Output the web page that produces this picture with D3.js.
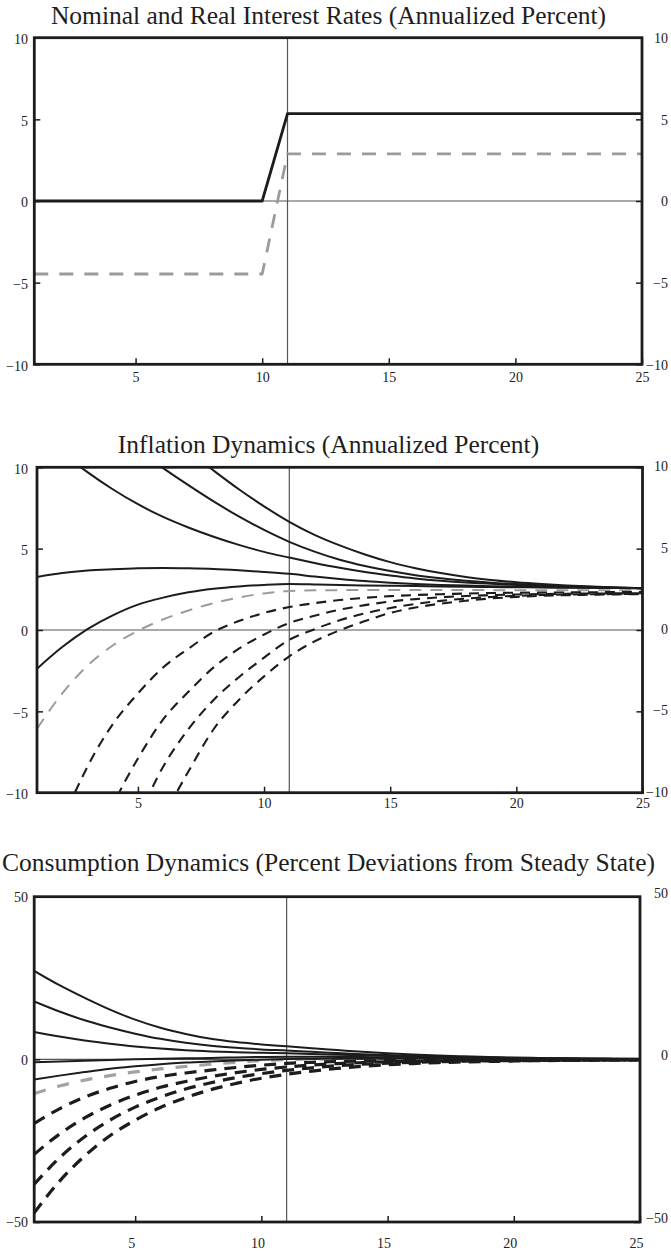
<!DOCTYPE html>
<html>
<head>
<meta charset="utf-8">
<script src="https://cdn.jsdelivr.net/npm/d3@7"></script>
<style>
  body { margin: 0; background: #fff; }
  svg { display: block; }
</style>
</head>
<body>
<svg id="chart" width="671" height="1254"></svg>
<script>
// ---------------- DATA ----------------
const periods = [1,2,3,4,5,6,7,8,9,10,11,12,13,14,15,16,17,18,19,20,21,22,23,24,25];
const xTicks = [5, 10, 15, 20, 25];
const rateTicks = [-10, -5, 0, 5, 10];
const consTicks = [-50, 0, 50];
const eventPeriod = 11;

const titles = [
  "Nominal and Real Interest Rates (Annualized Percent)",
  "Inflation Dynamics (Annualized Percent)",
  "Consumption Dynamics (Percent Deviations from Steady State)"
];

// Panel 1: interest rates
const nominalRate = [0,0,0,0,0,0,0,0,0,0,5.35,5.35,5.35,5.35,5.35,5.35,5.35,5.35,5.35,5.35,5.35,5.35,5.35,5.35,5.35];
const realRate = [-4.47,-4.47,-4.47,-4.47,-4.47,-4.47,-4.47,-4.47,-4.47,-4.47,2.88,2.88,2.88,2.88,2.88,2.88,2.88,2.88,2.88,2.88,2.88,2.88,2.88,2.88,2.88];

// Panel 2: inflation paths
const inflHighC = [18.8,17.4,16.0,14.7,13.4,12.2,11.0,9.8,8.65,7.6,6.65,5.85,5.2,4.64,4.17,3.8,3.5,3.26,3.08,2.94,2.83,2.74,2.67,2.61,2.57];
const inflHighB = [15.9,14.6,13.4,12.2,11.05,9.95,8.9,7.9,6.98,6.15,5.42,4.82,4.32,3.93,3.62,3.37,3.18,3.03,2.91,2.83,2.75,2.69,2.64,2.6,2.57];
const inflHighA = [12.2,10.9,9.7,8.65,7.73,6.95,6.3,5.73,5.23,4.8,4.45,4.12,3.82,3.56,3.35,3.17,3.03,2.92,2.84,2.77,2.71,2.66,2.62,2.59,2.57];
const inflHump  = [3.26,3.5,3.65,3.73,3.79,3.81,3.79,3.75,3.67,3.57,3.45,3.29,3.14,3.01,2.91,2.83,2.77,2.73,2.69,2.66,2.64,2.62,2.6,2.58,2.57];
const inflRise  = [-2.38,-1.05,0.05,0.9,1.56,1.99,2.32,2.54,2.68,2.77,2.82,2.8,2.77,2.74,2.72,2.7,2.68,2.66,2.64,2.63,2.61,2.6,2.59,2.58,2.57];
const inflGray  = [-6.07,-3.9,-2.2,-0.95,-0.05,0.65,1.2,1.65,2.0,2.25,2.4,2.44,2.45,2.46,2.46,2.46,2.46,2.46,2.45,2.45,2.45,2.44,2.44,2.44,2.44];
const inflLow1  = [-16.9,-11.9,-8.4,-5.8,-3.9,-2.3,-1.15,-0.12,0.55,1.05,1.41,1.65,1.84,1.98,2.08,2.15,2.2,2.24,2.27,2.29,2.3,2.31,2.32,2.33,2.34];
const inflLow2  = [-24.0,-18.8,-14.5,-10.8,-7.9,-5.5,-3.8,-2.3,-1.15,-0.28,0.43,0.88,1.25,1.53,1.75,1.9,2.01,2.09,2.14,2.18,2.21,2.23,2.24,2.25,2.26];
const inflLow3  = [-27.0,-22.0,-17.8,-14.3,-11.5,-8.4,-6.1,-4.3,-2.9,-1.7,-0.6,0.05,0.6,1.02,1.35,1.6,1.79,1.93,2.03,2.1,2.15,2.18,2.2,2.21,2.22];
const inflLow4  = [-30.0,-25.0,-21.0,-17.5,-14.5,-11.5,-8.7,-6.1,-4.3,-2.85,-1.62,-0.7,-0.02,0.55,1.05,1.38,1.62,1.8,1.94,2.03,2.1,2.14,2.17,2.19,2.21];

// Panel 3: consumption paths
const consHigh1 = [27.2,22.8,18.9,15.3,12.2,9.7,7.8,6.3,5.3,4.6,4.0,3.4,2.85,2.3,1.85,1.48,1.17,0.92,0.72,0.56,0.43,0.34,0.27,0.21,0.16];
const consHigh2 = [17.8,14.7,12.0,9.8,7.9,6.3,5.1,4.2,3.55,3.05,2.7,2.3,1.95,1.6,1.3,1.05,0.85,0.68,0.54,0.43,0.34,0.27,0.21,0.17,0.13];
const consHigh3 = [8.4,7.0,5.8,4.8,3.95,3.3,2.8,2.45,2.2,2.0,1.85,1.65,1.45,1.25,1.05,0.88,0.72,0.58,0.46,0.37,0.29,0.23,0.18,0.14,0.11];
const consMid   = [-0.9,-0.65,-0.4,-0.2,0.0,0.15,0.3,0.45,0.6,0.72,0.8,0.8,0.76,0.7,0.62,0.53,0.45,0.37,0.3,0.24,0.19,0.15,0.12,0.09,0.07];
const consRise  = [-6.2,-5.0,-3.9,-2.9,-2.15,-1.5,-1.0,-0.65,-0.35,-0.1,0.1,0.2,0.25,0.27,0.27,0.25,0.22,0.19,0.16,0.13,0.1,0.08,0.06,0.05,0.04];
const consGray  = [-10.5,-8.2,-6.4,-5.0,-3.85,-2.95,-2.2,-1.5,-0.9,-0.4,-0.05,0.05,0.05,0.05,0.05,0.04,0.04,0.03,0.02,0.02,0.01,0.01,0.0,0.0,0.0];
const consLow1  = [-19.7,-15.2,-11.6,-8.9,-6.8,-5.3,-4.2,-3.3,-2.5,-1.8,-1.25,-0.9,-0.65,-0.5,-0.4,-0.35,-0.3,-0.25,-0.2,-0.2,-0.15,-0.15,-0.1,-0.1,-0.1];
const consLow2  = [-29.2,-23.0,-18.0,-14.1,-11.0,-8.6,-6.8,-5.3,-4.1,-3.1,-2.35,-1.75,-1.3,-1.0,-0.75,-0.6,-0.5,-0.4,-0.35,-0.3,-0.25,-0.2,-0.2,-0.15,-0.15];
const consLow3  = [-38.4,-30.3,-23.8,-18.7,-14.7,-11.6,-9.1,-7.2,-5.6,-4.4,-3.4,-2.6,-1.95,-1.5,-1.15,-0.9,-0.7,-0.55,-0.45,-0.4,-0.35,-0.3,-0.25,-0.2,-0.2];
const consLow4  = [-47.2,-37.5,-29.7,-23.5,-18.7,-14.8,-11.8,-9.3,-7.4,-5.8,-4.6,-3.6,-2.8,-2.15,-1.65,-1.3,-1.0,-0.8,-0.65,-0.5,-0.4,-0.35,-0.3,-0.25,-0.2];

// ---------------- STYLES / LAYOUT ----------------
const FONT = "'Liberation Serif', 'Times New Roman', serif";
const BLACK = "#1c1c1c";
const GRAY = "#9b9b9b";

const solid1 = { color: BLACK, width: 2.8, dash: null };
const gray1  = { color: GRAY,  width: 2.8, dash: "14,11" };
const solid2 = { color: BLACK, width: 2.0, dash: null };
const dash2  = { color: BLACK, width: 2.1, dash: "10,7" };
const gray2  = { color: GRAY,  width: 2.0, dash: "12,9" };
const solid3 = { color: BLACK, width: 2.0, dash: null };
const dash3  = { color: BLACK, width: 3.2, dash: "12,8" };
const gray3  = { color: "#a3a3a3", width: 3.2, dash: "12,12" };

const panels = [
  {
    key: "p1", title: titles[0], titleY: 24,
    left: 34.3, right: 642, top: 37.7, bottom: 364.3,
    yDomain: [-10, 10], yTicks: rateTicks,
    leftLabelDy: 1.5, rightLabelDy: 0.5, xLabelY: 18, xLabelDx: 0,
    curve: d3.curveLinear,
    series: [
      Object.assign({ values: realRate }, gray1),
      Object.assign({ values: nominalRate }, solid1)
    ]
  },
  {
    key: "p2", title: titles[1], titleY: 452.7,
    left: 37, right: 642.5, top: 467.3, bottom: 792.7,
    yDomain: [-10, 10], yTicks: rateTicks,
    leftLabelDy: 1.5, rightLabelDy: -1, xLabelY: 15.5, xLabelDx: 0,
    curve: d3.curveMonotoneX,
    series: [
      Object.assign({ values: inflGray }, gray2),
      Object.assign({ values: inflLow1 }, dash2),
      Object.assign({ values: inflLow2 }, dash2),
      Object.assign({ values: inflLow3 }, dash2),
      Object.assign({ values: inflLow4 }, dash2),
      Object.assign({ values: inflHighC }, solid2),
      Object.assign({ values: inflHighB }, solid2),
      Object.assign({ values: inflHighA }, solid2),
      Object.assign({ values: inflHump }, solid2),
      Object.assign({ values: inflRise }, solid2)
    ]
  },
  {
    key: "p3", title: titles[2], titleY: 870.7,
    left: 34.2, right: 640, top: 896.7, bottom: 1222,
    yDomain: [-50, 50], yTicks: consTicks,
    leftLabelDy: 0.5, rightLabelDy: -4, xLabelY: 26, xLabelDx: -4,
    curve: d3.curveMonotoneX,
    series: [
      Object.assign({ values: consGray }, gray3),
      Object.assign({ values: consLow1 }, dash3),
      Object.assign({ values: consLow2 }, dash3),
      Object.assign({ values: consLow3 }, dash3),
      Object.assign({ values: consLow4 }, dash3),
      Object.assign({ values: consHigh1 }, solid3),
      Object.assign({ values: consHigh2 }, solid3),
      Object.assign({ values: consHigh3 }, solid3),
      Object.assign({ values: consMid }, solid3),
      Object.assign({ values: consRise }, solid3)
    ]
  }
];

// ---------------- DRAW ----------------
const svg = d3.select("#chart");
svg.append("rect").attr("width", 671).attr("height", 1254).attr("fill", "#fff");
const defs = svg.append("defs");

function styleAxisText(sel) {
  sel.selectAll("text")
    .attr("font-family", FONT)
    .attr("font-size", 14)
    .attr("fill", "#222");
}

panels.forEach(p => {
  const g = svg.append("g");
  const x = d3.scaleLinear().domain([1, 25]).range([p.left, p.right]);
  const y = d3.scaleLinear().domain(p.yDomain).range([p.bottom, p.top]);

  defs.append("clipPath").attr("id", "clip-" + p.key)
    .append("rect")
    .attr("x", p.left).attr("y", p.top)
    .attr("width", p.right - p.left).attr("height", p.bottom - p.top);

  // title
  g.append("text")
    .attr("x", 328.5).attr("y", p.titleY)
    .attr("text-anchor", "middle")
    .attr("font-family", FONT)
    .attr("font-size", 25.5)
    .attr("fill", "#1e1e1e")
    .text(p.title);

  // reference lines
  g.append("line")
    .attr("x1", p.left).attr("x2", p.right)
    .attr("y1", y(0)).attr("y2", y(0))
    .attr("stroke", "#555").attr("stroke-width", 1.2);
  g.append("line")
    .attr("x1", x(eventPeriod)).attr("x2", x(eventPeriod))
    .attr("y1", p.top).attr("y2", p.bottom)
    .attr("stroke", "#555").attr("stroke-width", 1.2);

  // series
  const line = d3.line()
    .x((d, i) => x(periods[i]))
    .y(d => y(d))
    .curve(p.curve);
  const plot = g.append("g").attr("clip-path", "url(#clip-" + p.key + ")");
  p.series.forEach(s => {
    plot.append("path")
      .attr("d", line(s.values))
      .attr("fill", "none")
      .attr("stroke", s.color)
      .attr("stroke-width", s.width)
      .attr("stroke-dasharray", s.dash)
      .attr("stroke-linejoin", "round");
  });

  // axes
  const leftAxis = d3.axisLeft(y).tickValues(p.yTicks)
    .tickSizeInner(-6).tickSizeOuter(0).tickPadding(p.left - 28);
  const gl = g.append("g").attr("transform", `translate(${p.left},0)`).call(leftAxis);
  gl.select(".domain").remove();
  gl.selectAll("line").attr("stroke", BLACK).attr("stroke-width", 1.5);
  styleAxisText(gl);
  gl.selectAll("text").attr("transform", `translate(0,${p.leftLabelDy})`);

  const rightAxis = d3.axisRight(y).tickValues(p.yTicks)
    .tickSizeInner(-6).tickSizeOuter(0);
  const gr = g.append("g").attr("transform", `translate(${p.right},0)`).call(rightAxis);
  gr.select(".domain").remove();
  gr.selectAll("line").attr("stroke", BLACK).attr("stroke-width", 1.5);
  styleAxisText(gr);
  gr.selectAll("text")
    .attr("x", 668 - p.right)
    .attr("text-anchor", "end")
    .attr("transform", `translate(0,${p.rightLabelDy})`);

  const bottomAxis = d3.axisBottom(x).tickValues(xTicks)
    .tickSizeInner(-6).tickSizeOuter(0);
  const gb = g.append("g").attr("transform", `translate(0,${p.bottom})`).call(bottomAxis);
  gb.select(".domain").remove();
  gb.selectAll("line").attr("stroke", BLACK).attr("stroke-width", 1.5);
  styleAxisText(gb);
  gb.selectAll("text").attr("y", p.xLabelY).attr("dy", 0).attr("x", p.xLabelDx);

  // frame
  g.append("rect")
    .attr("x", p.left).attr("y", p.top)
    .attr("width", p.right - p.left).attr("height", p.bottom - p.top)
    .attr("fill", "none")
    .attr("stroke", BLACK)
    .attr("stroke-width", 2.8);
});
</script>
</body>
</html>
